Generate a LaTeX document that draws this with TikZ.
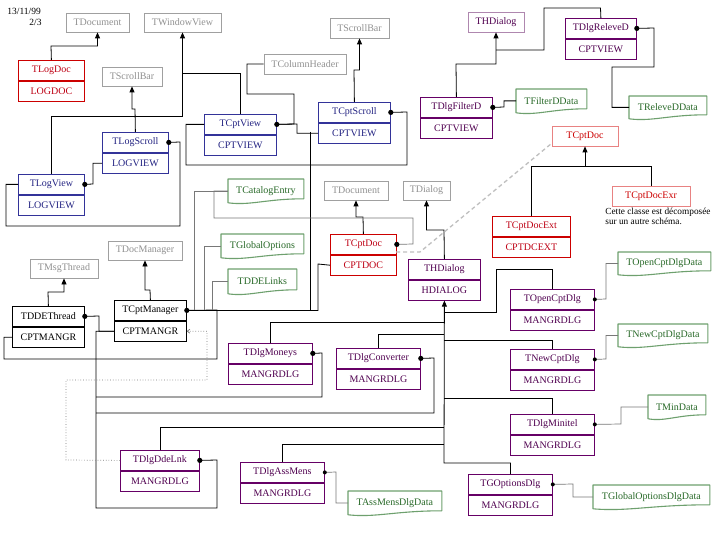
\documentclass[tikz,border=0pt]{standalone}
\usepackage{fontspec}
\setmainfont{Liberation Serif}
\usetikzlibrary{arrows.meta,calc}
\definecolor{credb}{RGB}{204,0,0}
\definecolor{credt}{RGB}{190,0,20}
\definecolor{clredb}{RGB}{232,130,130}
\definecolor{cblue}{RGB}{51,51,153}
\definecolor{cbluet}{RGB}{35,35,130}
\definecolor{cpurp}{RGB}{102,0,102}
\definecolor{cpurpt}{RGB}{80,0,80}
\definecolor{clpurp}{RGB}{175,135,175}
\definecolor{cgrayb}{RGB}{160,160,160}
\definecolor{cgrayt}{RGB}{145,145,145}
\definecolor{cgreen}{RGB}{110,160,110}
\definecolor{cgreent}{RGB}{40,105,40}
\definecolor{cgline}{RGB}{120,120,120}
\tikzset{
  base/.style={inner sep=0pt, font=\fontsize{10}{11}\selectfont, line width=0.8pt},
  cls/.style={base, draw, minimum height=20pt},
  simple/.style={base, draw},
  redc/.style={draw=credb, text=credt},
  bluec/.style={draw=cblue, text=cbluet},
  purpc/.style={draw=cpurp, text=cpurpt},
  blackc/.style={draw=black, text=black},
  grayc/.style={draw=cgrayb, text=cgrayt},
  lredc/.style={draw=clredb, text=credb},
  lpurpc/.style={draw=clpurp, text=cpurpt},
  datan/.style={base, text=cgreent},
  datab/.style={draw=cgreen, line width=1.1pt, line join=round},
  wire/.style={line width=0.8pt, draw=black},
  gwire/.style={line width=0.7pt, draw=cgline},
  inh/.style={wire, -{Triangle[length=6pt,width=5pt]}},
}
\newcommand\clsnode[7]{%
  \node[cls, #2, minimum width=#5pt, anchor=north west] (#1) at (#3,#4) {#6};
  \node[cls, #2, minimum width=#5pt, anchor=north] (#1-b) at (#1.south) {#7};}
\newcommand\simplenode[7]{%
  \node[simple, #2, minimum width={(#5-#3)*1pt}, minimum height={(#6-#4)*1pt}] (#1) at ({(#3+#5)/2},{(#4+#6)/2}) {#7};}
\newcommand\datanode[6]{%
  \node[datan, minimum width={(#4-#2)*1pt}, minimum height={(#5-#3)*1pt}, anchor=north west] (#1) at (#2,#3) {#6};
  \draw[datab] (#1.north west) -- (#1.north east) -- ([yshift=4pt]#1.south east)
     .. controls ([xshift={-0.5*(#4-#2)*1pt}, yshift=4pt]#1.south east) and ([xshift={0.3*(#4-#2)*1pt}, yshift=-3pt]#1.south west) .. (#1.south west) -- cycle;}
\begin{document}
\begin{tikzpicture}[x=1pt,y=-1pt]
\useasboundingbox[fill=white] (0,0) rectangle (720,540);
% header
\node[base, anchor=west, font=\fontsize{9.5}{10}\selectfont] (date) at (7,11) {13/11/99};
\node[base, anchor=east, font=\fontsize{9.5}{10}\selectfont] (page) at (42,22) {2/3};
% class boxes
\clsnode{logdoc}{redc}{18}{60}{66}{TLogDoc}{LOGDOC}
\clsnode{cptdoc}{redc}{330}{234}{66}{TCptDoc}{CPTDOC}
\clsnode{cptdocext}{redc}{492}{216}{78}{TCptDocExt}{CPTDCEXT}
\clsnode{logscroll}{bluec}{102}{132}{66}{TLogScroll}{LOGVIEW}
\clsnode{logview}{bluec}{18}{174}{66}{TLogView}{LOGVIEW}
\clsnode{cptview}{bluec}{204}{114}{72}{TCptView}{CPTVIEW}
\clsnode{cptscroll}{bluec}{318}{102}{72}{TCptScroll}{CPTVIEW}
\clsnode{filterd}{purpc}{420}{97}{72}{TDlgFilterD}{CPTVIEW}
\clsnode{releved}{purpc}{565}{18}{71}{TDlgReleveD}{CPTVIEW}
\clsnode{hdialog}{purpc}{408}{259}{72}{THDialog}{HDIALOG}
\clsnode{opencpt}{purpc}{510}{289}{84}{TOpenCptDlg}{MANGRDLG}
\clsnode{newcpt}{purpc}{510}{349}{84}{TNewCptDlg}{MANGRDLG}
\clsnode{minitel}{purpc}{510}{414}{84}{TDlgMinitel}{MANGRDLG}
\clsnode{goptions}{purpc}{468}{474}{84}{TGOptionsDlg}{MANGRDLG}
\clsnode{moneys}{purpc}{228}{343}{84}{TDlgMoneys}{MANGRDLG}
\clsnode{converter}{purpc}{336}{348}{84}{TDlgConverter}{MANGRDLG}
\clsnode{assmens}{purpc}{240}{462}{84}{TDlgAssMens}{MANGRDLG}
\clsnode{ddelnk}{purpc}{120}{450}{79}{TDlgDdeLnk}{MANGRDLG}
\clsnode{ddethread}{blackc}{12}{306}{72}{TDDEThread}{CPTMANGR}
\clsnode{cptmanager}{blackc}{114}{300}{72}{TCptManager}{CPTMANGR}
% simple boxes
\simplenode{gdoc1}{grayc}{66}{13}{129}{32}{TDocument}
\simplenode{gwinview}{grayc}{144}{13}{221}{32}{TWindowView}
\simplenode{gscroll1}{grayc}{102}{67}{162}{86}{TScrollBar}
\simplenode{gcolhead}{grayc}{264}{54}{346}{74}{TColumnHeader}
\simplenode{gscroll2}{grayc}{330}{18}{389}{38}{TScrollBar}
\simplenode{gdoc2}{grayc}{324}{181}{388}{200}{TDocument}
\simplenode{gdialog}{grayc}{403}{181}{450}{200}{TDialog}
\simplenode{gdocman}{grayc}{108}{241}{182}{260}{TDocManager}
\simplenode{gmsgthread}{grayc}{30}{259}{98}{278}{TMsgThread}
\simplenode{cptdoctop}{lredc}{552}{126}{618}{146}{TCptDoc}
\simplenode{cptdocexr}{lredc}{612}{186}{690}{206}{TCptDocExr}
\simplenode{hdialogtop}{lpurpc}{468}{12}{524}{32}{THDialog}
% data boxes
\datanode{filterdata}{516}{89}{586}{112}{TFilterDData}
\datanode{relevedata}{629}{96}{706}{118}{TReleveDData}
\datanode{catalog}{228}{179}{303}{202}{TCatalogEntry}
\datanode{globopt}{221}{234}{303}{257}{TGlobalOptions}
\datanode{ddelinks}{228}{269}{296}{293}{TDDELinks}
\datanode{opendata}{618}{252}{710}{274}{TOpenCptDlgData}
\datanode{newdata}{618}{324}{707}{346}{TNewCptDlgData}
\datanode{mindata}{648}{395}{705}{418}{TMinData}
\datanode{goptdata}{593}{485}{709}{508}{TGlobalOptionsDlgData}
\datanode{assdata}{348}{491}{441}{514}{TAssMensDlgData}
% note
\node[base, anchor=north west, align=left, font=\fontsize{9.3}{10}\selectfont] (note) at (605,208) {Cette classe est décomposée\\sur un autre schéma.};
% inheritance
\draw[inh] (logdoc.north) -- (51,46) -| (gdoc1.south);
\draw[inh] (logview.north) |- (182.5,116) -- (gwinview.south);
\draw[wire] (cptview.north) |- (182.5,73);
\draw[inh] (logscroll.north) -- (135,109) -| (gscroll1.south);
\draw[inh] (cptscroll.north) -- (354,70) -| (gscroll2.south);
\draw[inh] (cptmanager.north) -- (150,290) -| (gdocman.south);
\draw[inh] (ddethread.north) -- (48,292) -| (gmsgthread.south);
\draw[inh] (cptdoc.north) -- (363,217) -| (gdoc2.south);
\draw[inh] (hdialog.north) -- (444,230) -| (gdialog.south);
\draw[inh] (filterd.north) -- (456,64) -| (hdialogtop.south);
\draw[wire] (releved.north) -- (600.5,8) -| (544,50) -- (496,50);
\draw[inh] (cptdocext.north) |- (585,166) -- (cptdoctop.south);
\draw[wire] (cptdocexr.north) |- (585,166);
\draw[inh] (goptions.north) |- (444,463) -- (hdialog-b.south);
\draw[wire] (opencpt.north) |- (496,269) |- (444,312);
\draw[wire] (newcpt.north) |- (444,340);
\draw[wire] (minitel.north) |- (444,398);
\draw[wire] (moneys.north) |- (444,322);
\draw[wire] (converter.north) |- (444,334);
\draw[wire] (ddelnk.north) |- (444,427);
\draw[wire] (assmens.north) |- (444,444);
% ownership
\draw[wire] (logview.east) -- (93,184) |- (logscroll-b.west);
\draw[wire] (logscroll.east) -- (180,142) |- (6,226) |- (logview.west);
\draw[wire] (cptscroll.east) -- (407,112) |- (186,165) |- (cptview.west);
\draw[wire] (cptview.east) -- (297,124) |- (cptscroll-b.west);
\draw[wire] (cptview.east) -- (294,124) |- (247,94) |- (gcolhead.west);
\draw[wire] (310,132) -- (310,310);
\draw[wire] (cptmanager.east) -| (318,264) -- (cptdoc-b.west);
\draw[wire] (ddethread.east) -- (99,316) |- (cptmanager-b.west);
\draw[wire] (cptmanager.east) -- (217,310) |- (4,359) |- (ddethread-b.west);
\draw[wire] (ddelnk.east) -- (217,460) |- (96,508) |- (cptmanager-b.west);
\draw[wire] (moneys.east) -- (322,353) |- (96,397);
\draw[wire] (converter.east) -- (434,358) |- (96,413);
\draw[wire] (filterd.east) -- (504,107) |- (filterdata.west);
\draw[wire] (releved.east) -- (654,28) |- (612,67) |- (relevedata.west);
% grey links to data
\draw[gwire] (194,310) |- (catalog.west);
\draw[gwire] (204,310) |- (globopt.west);
\draw[gwire] (212,310) |- (ddelinks.west);
\draw[gwire] (cptdoc.east) -- (413,244) |- (214,218) |- (catalog.west);
\draw[gwire] (opencpt.east) -- (606,299) |- (opendata.west);
\draw[gwire] (newcpt.east) -- (606,359) |- (newdata.west);
\draw[gwire] (minitel.east) -- (621,424) |- (mindata.west);
\draw[gwire] (goptions.east) -- (573,484) |- (goptdata.west);
\draw[gwire] (assmens.east) -- (336,472) |- (assdata.west);
% dashed and dotted
\draw[draw=black!25, line width=1.3pt, dash pattern=on 4pt off 3pt] (396,252) -- (420,252) -- ([yshift=3pt]cptdoctop.south west);
\draw[draw=cgline, line width=0.7pt, dotted, -{Straight Barb[length=2.5pt,width=4pt]}] (ddelnk.west) -- (66,460) |- (207,380) |- (cptmanager-b.east);
% dots
\foreach \n in {logview,logscroll,cptview,cptscroll,filterd,releved,cptdoc,ddethread,cptmanager,moneys,converter,ddelnk}
  \fill (\n.east) circle (2.6pt);
\foreach \n in {assmens,opencpt,newcpt,minitel,goptions}
  \fill (\n.east) circle (2pt);
\end{tikzpicture}
\end{document}
